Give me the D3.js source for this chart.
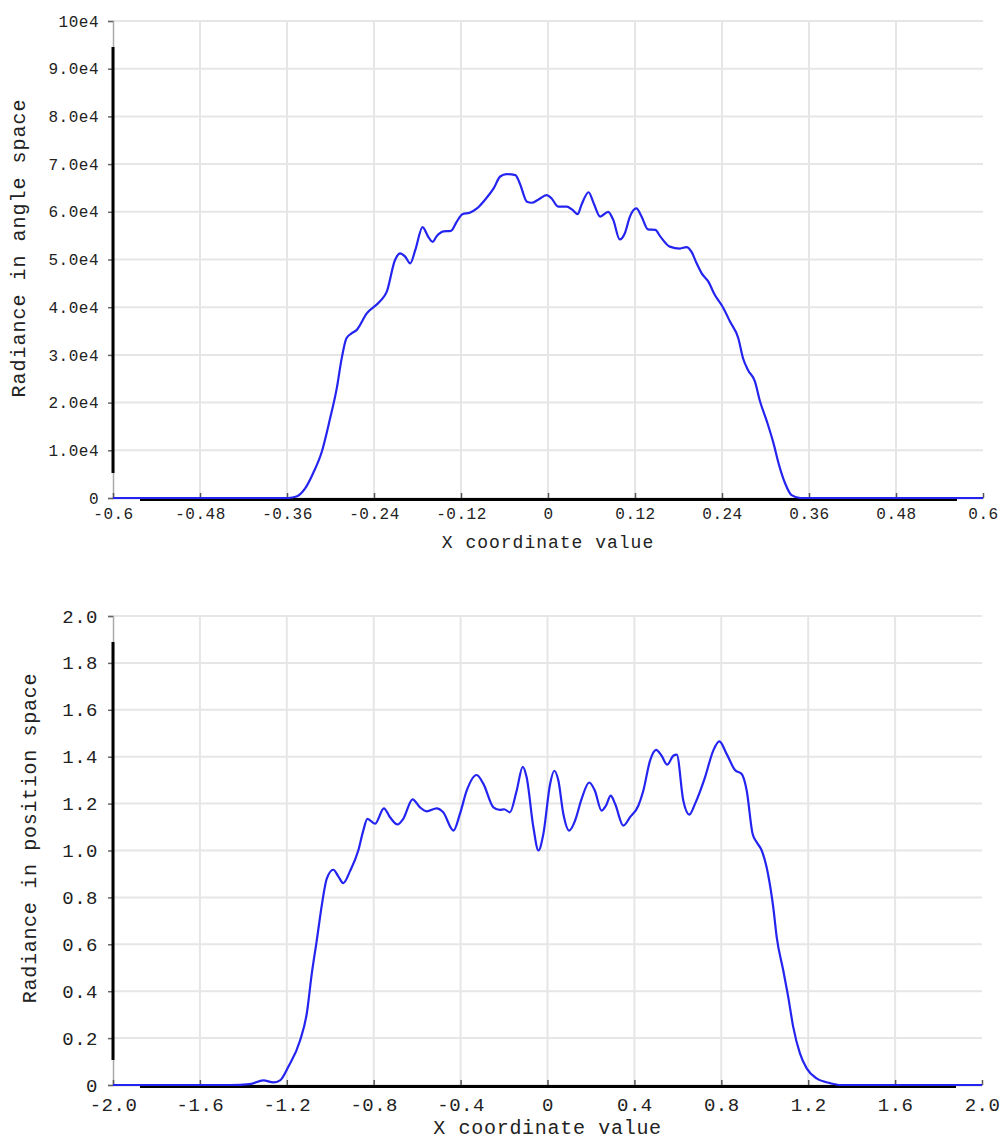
<!DOCTYPE html>
<html><head><meta charset="utf-8">
<script src="https://cdn.jsdelivr.net/npm/d3@7"></script>
<style>
body{margin:0;background:#fff;}
svg{display:block;}
text{font-family:"Liberation Mono","DejaVu Sans Mono",monospace;fill:#222;}
</style></head>
<body>
<svg id="chart" width="1001" height="1140"></svg>
<script>
// ---- Top chart: radiance in angle space ----
const angleX = [-0.6,-0.45,-0.37,-0.358,-0.347,-0.335,-0.324,-0.312,-0.301,-0.291,-0.285,-0.278,-0.271,-0.264,-0.25,-0.232,-0.2225,-0.211,-0.204,-0.197,-0.190,-0.183,-0.173,-0.165,-0.159,-0.154,-0.144,-0.134,-0.126,-0.118,-0.108,-0.098,-0.087,-0.075,-0.066,-0.057,-0.045,-0.039,-0.029,-0.0225,-0.013,-0.002,0.005,0.014,0.026,0.033,0.041,0.046,0.056,0.063,0.072,0.083,0.090,0.099,0.106,0.113,0.122,0.129,0.138,0.148,0.155,0.168,0.182,0.191,0.198,0.205,0.212,0.221,0.230,0.242,0.251,0.2625,0.269,0.276,0.2855,0.292,0.302,0.311,0.318,0.327,0.336,0.348,0.45,0.6];
const angleY = [0,0,0,0,300,2000,5200,9700,16400,23300,28900,33500,34500,35200,38700,41200,43200,49900,51300,50600,49200,52000,56800,54700,53700,54800,55900,56000,57900,59500,59800,60700,62500,64900,67400,67900,67700,66000,62100,61900,62600,63500,62800,61100,61100,60500,59500,61400,64100,61800,59000,60000,58300,54200,55500,59000,60700,59000,56300,56200,54800,52700,52300,52600,51600,49200,47100,45400,42600,39800,37000,33500,29300,26800,24400,20500,16000,11500,7300,3100,600,0,0,0];
const angleXTicks = [-0.6,-0.48,-0.36,-0.24,-0.12,0,0.12,0.24,0.36,0.48,0.6];
const angleXLabels = ["-0.6","-0.48","-0.36","-0.24","-0.12","0","0.12","0.24","0.36","0.48","0.6"];
const angleYTicks = [0,10000,20000,30000,40000,50000,60000,70000,80000,90000,100000];
const angleYLabels = ["0","1.0e4","2.0e4","3.0e4","4.0e4","5.0e4","6.0e4","7.0e4","8.0e4","9.0e4","10e4"];

// ---- Bottom chart: radiance in position space ----
const posX = [-2.0,-1.6,-1.46,-1.37,-1.308,-1.262,-1.231,-1.193,-1.139,-1.108,-1.085,-1.062,-1.039,-1.016,-0.986,-0.963,-0.940,-0.909,-0.871,-0.848,-0.829,-0.794,-0.753,-0.725,-0.691,-0.664,-0.621,-0.587,-0.556,-0.510,-0.480,-0.433,-0.403,-0.372,-0.326,-0.295,-0.249,-0.219,-0.200,-0.173,-0.142,-0.114,-0.096,-0.065,-0.042,-0.019,0.012,0.031,0.050,0.073,0.100,0.127,0.157,0.192,0.218,0.249,0.269,0.291,0.311,0.349,0.380,0.418,0.441,0.472,0.500,0.525,0.551,0.579,0.595,0.625,0.653,0.679,0.725,0.763,0.791,0.825,0.863,0.894,0.917,0.944,0.963,0.986,1.015,1.039,1.055,1.085,1.108,1.131,1.162,1.193,1.239,1.300,1.35,2.0];
const posY = [0,0,0,0.004,0.02,0.011,0.02,0.078,0.19,0.305,0.475,0.617,0.766,0.88,0.918,0.89,0.861,0.912,1.0,1.085,1.135,1.114,1.18,1.142,1.111,1.135,1.218,1.184,1.167,1.18,1.163,1.085,1.156,1.255,1.322,1.284,1.184,1.173,1.176,1.163,1.255,1.357,1.312,1.099,1.0,1.071,1.284,1.34,1.298,1.156,1.085,1.128,1.22,1.29,1.255,1.17,1.191,1.234,1.199,1.106,1.142,1.191,1.255,1.383,1.429,1.404,1.366,1.404,1.409,1.213,1.153,1.199,1.312,1.426,1.465,1.411,1.343,1.326,1.255,1.071,1.035,1.0,0.90,0.759,0.631,0.489,0.376,0.248,0.135,0.071,0.028,0.008,0,0];
const posXTicks = [-2.0,-1.6,-1.2,-0.8,-0.4,0,0.4,0.8,1.2,1.6,2.0];
const posXLabels = ["-2.0","-1.6","-1.2","-0.8","-0.4","0","0.4","0.8","1.2","1.6","2.0"];
const posYTicks = [0,0.2,0.4,0.6,0.8,1.0,1.2,1.4,1.6,1.8,2.0];
const posYLabels = ["0","0.2","0.4","0.6","0.8","1.0","1.2","1.4","1.6","1.8","2.0"];

const svg = d3.select("#chart");

function drawChart(cfg){
  const g = svg.append("g").attr("transform", `translate(${cfg.left},${cfg.top})`);
  const x = d3.scaleLinear().domain(cfg.xDomain).range([0, cfg.w]);
  const y = d3.scaleLinear().domain(cfg.yDomain).range([cfg.h, 0]);

  // grid
  g.append("g").selectAll("line.h").data(cfg.yTicks.slice(1)).join("line")
    .attr("x1",0).attr("x2",cfg.w).attr("y1",d=>y(d)).attr("y2",d=>y(d))
    .attr("stroke","#e6e6e6").attr("stroke-width",2);
  g.append("g").selectAll("line.v").data(cfg.xTicks.slice(1,-1)).join("line")
    .attr("y1",0).attr("y2",cfg.h).attr("x1",d=>x(d)).attr("x2",d=>x(d))
    .attr("stroke","#e6e6e6").attr("stroke-width",2);

  // y axis
  const yAxis = d3.axisLeft(y).tickValues(cfg.yTicks)
    .tickFormat((d,i)=>cfg.yLabels[i]).tickSize(5).tickPadding(cfg.yPad);
  const ya = g.append("g").call(yAxis);
  ya.select(".domain").attr("stroke","#aaa").attr("stroke-width",1.5);
  ya.selectAll(".tick line").attr("stroke","#666").attr("stroke-width",1.5);
  ya.selectAll(".tick text").attr("font-size",cfg.tickFont).attr("fill","#1a1a1a")
    .style("font-family",'"Liberation Mono","DejaVu Sans Mono",monospace').attr("letter-spacing",cfg.tickLS);

  // x axis
  const xAxis = d3.axisBottom(x).tickValues(cfg.xTicks)
    .tickFormat((d,i)=>cfg.xLabels[i]).tickSize(0).tickPadding(cfg.xPad);
  const xa = g.append("g").attr("transform",`translate(0,${cfg.h})`).call(xAxis);
  xa.select(".domain").attr("stroke","#aaa").attr("stroke-width",1.5);
  xa.selectAll(".tick text").attr("font-size",cfg.tickFont).attr("fill","#1a1a1a")
    .style("font-family",'"Liberation Mono","DejaVu Sans Mono",monospace').attr("letter-spacing",cfg.tickLS);
  xa.selectAll(".tick").append("line").attr("y1",0).attr("y2",-5)
    .attr("stroke","#555").attr("stroke-width",1.5);

  // thick black axis segments
  g.append("line").attr("x1",0).attr("x2",0).attr("y1",26).attr("y2",cfg.h-25)
    .attr("stroke","#000").attr("stroke-width",3);
  g.append("line").attr("x1",27).attr("x2",cfg.w-26).attr("y1",cfg.h+1.5).attr("y2",cfg.h+1.5)
    .attr("stroke","#000").attr("stroke-width",3);

  // curve
  const data = cfg.xs.map((v,i)=>[v,cfg.ys[i]]);
  const line = d3.line().x(d=>x(d[0])).y(d=>y(d[1])).curve(d3.curveMonotoneX);
  g.append("path").datum(data).attr("d",line).attr("fill","none")
    .attr("stroke","#2424f0").attr("stroke-width",2.2);

  // titles
  svg.append("text").attr("x",cfg.left+cfg.w/2).attr("y",cfg.xTitleY)
    .attr("text-anchor","middle").attr("font-size",cfg.titleFont).attr("letter-spacing",cfg.titleLS)
    .text("X coordinate value");
  svg.append("text").attr("transform",`translate(${cfg.yTitleX},${cfg.yTitleCY}) rotate(-90)`)
    .attr("text-anchor","middle").attr("font-size",cfg.yTitleFont).attr("letter-spacing",cfg.titleLS)
    .text(cfg.yTitle);
}

drawChart({left:113, top:21, w:870, h:477, xDomain:[-0.6,0.6], yDomain:[0,100000],
  xTicks:angleXTicks, xLabels:angleXLabels, yTicks:angleYTicks, yLabels:angleYLabels,
  xs:angleX, ys:angleY, tickFont:16, tickLS:0.5, yPad:9, xPad:10,
  titleFont:18, yTitleFont:20, titleLS:1, xTitleY:548, yTitleX:25, yTitleCY:248, yTitle:"Radiance in angle space"});

drawChart({left:113, top:616, w:869, h:469, xDomain:[-2,2], yDomain:[0,2],
  xTicks:posXTicks, xLabels:posXLabels, yTicks:posYTicks, yLabels:posYLabels,
  xs:posX, ys:posY, tickFont:19, tickLS:0.5, yPad:10, xPad:13,
  titleFont:20, yTitleFont:20, titleLS:0.7, xTitleY:1134, yTitleX:36, yTitleCY:838, yTitle:"Radiance in position space"});
</script>
</body></html>
